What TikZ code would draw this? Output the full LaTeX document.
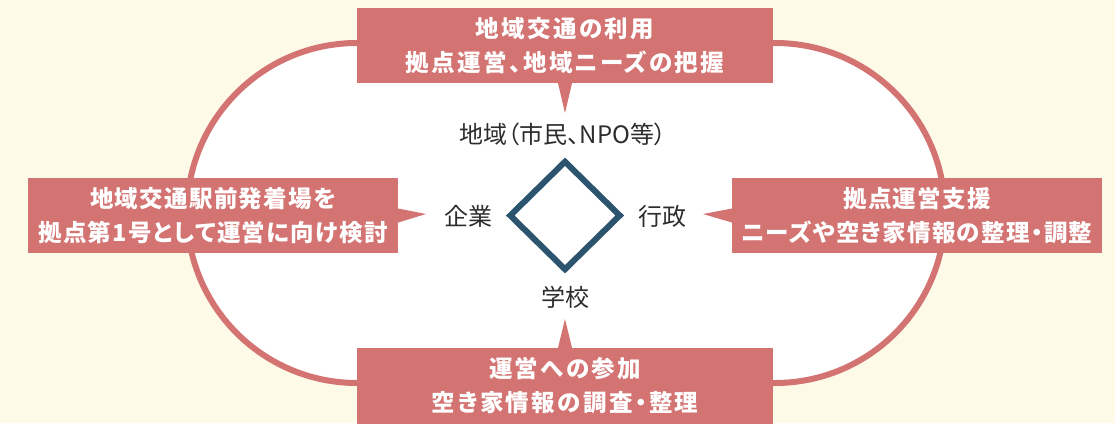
\documentclass[tikz,border=0pt]{standalone}
\usepackage{fontspec}
\setmainfont{Noto Sans CJK JP}[RawFeature=+palt]
\newfontfamily\boxfont{Noto Sans CJK JP}[RawFeature=+palt,LetterSpace=10]
\newfontfamily\sideboxfont{Noto Sans CJK JP}[RawFeature=+palt,LetterSpace=5.5]
\usetikzlibrary{shapes.geometric}
\definecolor{bgc}{RGB}{254,250,232}
\definecolor{boxc}{RGB}{211,115,114}
\definecolor{dia}{RGB}{44,84,110}
\definecolor{txt}{RGB}{45,45,45}
\tikzset{
  callout/.style={fill=boxc, text=white, inner sep=0pt, align=center,
    font=\boxfont\fontsize{23.5}{34}\selectfont\bfseries},
  sidecallout/.style={callout, font=\sideboxfont\fontsize{23.5}{34}\selectfont\bfseries},
  lbl/.style={text=txt, inner sep=0pt, font=\fontsize{24}{26}\selectfont},
  ring/.style={draw=boxc, fill=white, line width=6pt},
  ptr/.style={fill=boxc}
}
\begin{document}
\begin{tikzpicture}[x=1pt,y=-1pt]
\fill[bgc] (0,0) rectangle (1115,423);
\useasboundingbox (0,0) rectangle (1115,423);
\draw[ring, rounded corners=170pt] (187,43) rectangle (945,383);
% boxes
\node[callout, minimum width=416pt, minimum height=75pt] (top) at (565,45.5)
  {地域交通の利用\\拠点運営、地域ニーズの把握};
\node[sidecallout, minimum width=370pt, minimum height=75pt] (left) at (213,215.5)
  {地域交通駅前発着場を\\拠点第1号として運営に向け検討};
\node[sidecallout, minimum width=370pt, minimum height=75pt] (right) at (917,215.5)
  {拠点運営支援\\ニーズや空き家情報の整理・調整};
\node[callout, minimum width=416pt, minimum height=76pt] (bot) at (565,386)
  {運営への参加\\空き家情報の調査・整理};
% pointer tips
\coordinate (tt) at (565,113);
\coordinate (lt) at (426,214);
\coordinate (rt) at (703,214);
\coordinate (bt) at (565,319);
\fill[ptr] ([xshift=-7pt]top.south) -- ([xshift=7pt]top.south) -- (tt) -- cycle;
\fill[ptr] ([yshift=-7pt]left.east) -- ([yshift=7pt]left.east) -- (lt) -- cycle;
\fill[ptr] ([yshift=-7pt]right.west) -- ([yshift=7pt]right.west) -- (rt) -- cycle;
\fill[ptr] ([xshift=-7pt]bot.north) -- ([xshift=7pt]bot.north) -- (bt) -- cycle;
% diamond
\node[diamond, draw=dia, line width=6pt, minimum width=112pt, minimum height=110pt, inner sep=0pt] (d) at (565,215.5) {};
% labels
\node[lbl] (n) at (563,134) {地域（市民、NPO等）};
\node[lbl] (w) at (468,216) {企業};
\node[lbl] (e) at (662,216) {行政};
\node[lbl] (s) at (565,297) {学校};
\end{tikzpicture}
\end{document}
